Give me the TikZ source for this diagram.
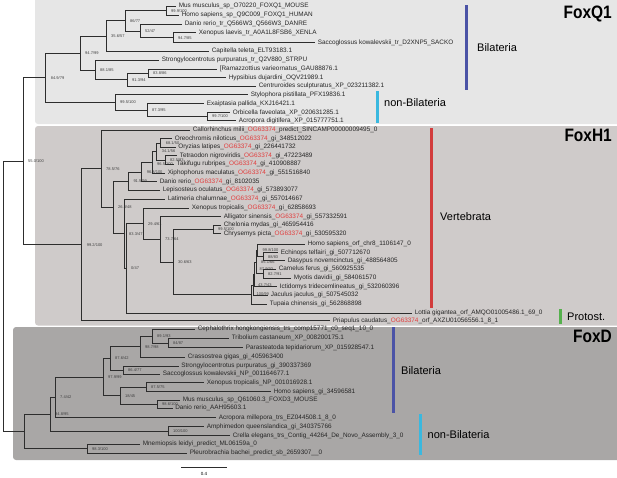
\documentclass[tikz,border=0pt]{standalone}
\usepackage{fontspec}
\setmainfont{Liberation Sans}
\definecolor{boxA}{RGB}{230,230,230}
\definecolor{boxB}{RGB}{207,203,202}
\definecolor{boxC}{RGB}{169,167,166}
\definecolor{ogred}{RGB}{226,62,62}
\definecolor{barblue}{RGB}{75,83,166}
\definecolor{barcyan}{RGB}{58,184,223}
\definecolor{barred}{RGB}{210,60,60}
\definecolor{bargreen}{RGB}{85,176,77}
\definecolor{treeline}{RGB}{45,45,45}
\newcommand\og{\textcolor{ogred}{OG63374}}
\newcommand\inode[4]{\coordinate (#1) at (#2,#3); \node[bs] (#1-bs) at (#1) {#4};}
\newcommand\inodeat[5]{\coordinate (#1) at (#2,#3); \node[bs] (#1-bs) at (#2,#4) {#5};}
\newcommand\lnode[4]{\node[leaf] (#1) at (#2,#3) {#4};}
\newcommand\conn[2]{\draw[branch] (#1) |- (#2);}
\newcommand\lconn[2]{\draw[branch] (#1) |- (#2.west);}
\tikzset{
 leaf/.style={anchor=west, inner xsep=2.6pt, inner ysep=0pt, font=\fontsize{6.4}{7}\selectfont, text=black!85},
 bs/.style={anchor=west, inner sep=0pt, xshift=5pt, font=\fontsize{4}{4.5}\selectfont, text=black!75},
 branch/.style={draw=treeline, line width=0.7pt},
 grp/.style={anchor=west, inner sep=0pt, font=\fontsize{11}{13}\selectfont},
 gbar/.style={line width=3pt},
 ttl/.style={anchor=east, inner sep=0pt, font=\bfseries\fontsize{18}{20}\selectfont},
}
\begin{document}
\begin{tikzpicture}[x=1pt,y=-1pt]
\useasboundingbox (0,0) rectangle (617,477);
% clade boxes
\fill[boxA, rounded corners=3pt] (35,-4) rectangle (621,124);
\fill[boxB, rounded corners=3pt] (35,126) rectangle (621,325.5);
\fill[boxC, rounded corners=3pt] (13,327) rectangle (621,460);
% titles
\node[ttl] (tQ) at (612,14) {\scalebox{0.86}[1]{FoxQ1}};
\node[ttl] (tH) at (612,135) {\scalebox{0.86}[1]{FoxH1}};
\node[ttl] (tD) at (612,336.5) {\scalebox{0.86}[1]{FoxD}};
% group bars
\coordinate (b1a) at (466.7,5); \coordinate (b1b) at (466.7,90);
\draw[gbar,barblue] (b1a) -- (b1b);
\node[grp] (g1) at (477,47.7) {Bilateria};
\coordinate (b2a) at (377,91); \coordinate (b2b) at (377,123);
\draw[gbar,barcyan] (b2a) -- (b2b);
\node[grp] (g2) at (384,103) {non-Bilateria};
\coordinate (b3a) at (431.7,128); \coordinate (b3b) at (431.7,308);
\draw[gbar,barred] (b3a) -- (b3b);
\node[grp] (g3) at (440,216.7) {Vertebrata};
\coordinate (b4a) at (560.7,309); \coordinate (b4b) at (560.7,324);
\draw[gbar,bargreen] (b4a) -- (b4b);
\node[grp] (g4) at (567,317) {Protost.};
\coordinate (b5a) at (393,327); \coordinate (b5b) at (393,413);
\draw[gbar,barblue] (b5a) -- (b5b);
\node[grp] (g5) at (401,371) {Bilateria};
\coordinate (b6a) at (420.7,414); \coordinate (b6b) at (420.7,455);
\draw[gbar,barcyan] (b6a) -- (b6b);
\node[grp] (g6) at (427.5,435) {non-Bilateria};
% ---------------- FoxQ1 leaves
\lnode{q1}{176}{6}{Mus musculus\_sp\_O70220\_FOXQ1\_MOUSE}
\lnode{q2}{179}{15.3}{Homo sapiens\_sp\_Q9C009\_FOXQ1\_HUMAN}
\lnode{q3}{182}{24}{Danio rerio\_tr\_Q566W3\_Q566W3\_DANRE}
\lnode{q4}{196}{32.7}{Xenopus laevis\_tr\_A0A1L8FSB6\_XENLA}
\lnode{q5}{315}{42.7}{Saccoglossus kowalevskii\_tr\_D2XNP5\_SACKO}
\lnode{q6}{209}{51}{Capitella teleta\_ELT93183.1}
\lnode{q7}{159}{60}{Strongylocentrotus purpuratus\_tr\_Q2V880\_STRPU}
\lnode{q8}{217}{69}{[Ramazzottius varieornatus\_GAU88876.1}
\lnode{q9}{226}{77.7}{Hypsibius dujardini\_OQV21989.1}
\lnode{q10}{256}{86.3}{Centruroides sculpturatus\_XP\_023211382.1}
\lnode{q11}{248}{94.7}{Stylophora pistillata\_PFX19836.1}
\lnode{q12}{204}{103.7}{Exaiptasia pallida\_KXJ16421.1}
\lnode{q13}{230}{112.5}{Orbicella faveolata\_XP\_020631285.1}
\lnode{q14}{236}{120.5}{Acropora digitifera\_XP\_015777751.1}
% FoxQ1 internal
\inode{mh}{166}{10.65}{99.9/100}
\inode{n947}{173}{37.7}{94.7/85}
\inode{n5247}{140}{30.85}{52/47}
\inode{n8677}{125}{20.75}{86/77}
\inode{n356}{106}{35.9}{35.6/57}
\inode{n838}{148}{73.35}{83.8/86}
\inode{n913}{127}{79.8}{91.3/94}
\inode{n881}{95}{69.9}{88.1/85}
\inode{n947b}{80}{52.9}{94.7/99}
\inode{n997}{207}{116.5}{99.7/100}
\inode{n873}{147}{110.1}{87.3/95}
\inode{n995}{115}{102.4}{99.5/100}
\inode{n849}{45.7}{77.65}{84.9/79}
\lconn{mh}{q1}\lconn{mh}{q2}
\lconn{n947}{q4}\lconn{n947}{q5}
\lconn{n5247}{q3}\conn{n5247}{n947}
\conn{n8677}{mh}\conn{n8677}{n5247}
\conn{n356}{n8677}\lconn{n356}{q6}
\lconn{n838}{q8}\lconn{n838}{q9}
\conn{n913}{n838}\lconn{n913}{q10}
\lconn{n881}{q7}\conn{n881}{n913}
\conn{n947b}{n356}\conn{n947b}{n881}
\lconn{n997}{q13}\lconn{n997}{q14}
\lconn{n873}{q12}\conn{n873}{n997}
\lconn{n995}{q11}\conn{n995}{n873}
\conn{n849}{n947b}\conn{n849}{n995}
% ---------------- FoxH1 leaves
\lnode{h1}{190}{130}{Callorhinchus milii\_\og\_predict\_SINCAMP00000009495\_0}
\lnode{h2}{172}{138.7}{Oreochromis niloticus\_\og\_gi\_348512022}
\lnode{h3}{175.5}{147}{Oryzias latipes\_\og\_gi\_226441732}
\lnode{h4}{177}{155.7}{Tetraodon nigroviridis\_\og\_gi\_47223489}
\lnode{h5}{174}{164.3}{Takifugu rubripes\_\og\_gi\_410908887}
\lnode{h6}{165}{173}{Xiphophorus maculatus\_\og\_gi\_551516840}
\lnode{h7}{157}{181.7}{Danio rerio\_\og\_gi\_8102035}
\lnode{h8}{160}{190.3}{Lepisosteus oculatus\_\og\_gi\_573893077}
\lnode{h9}{165}{199}{Latimeria chalumnae\_\og\_gi\_557014667}
\lnode{h10}{189}{208}{Xenopus tropicalis\_\og\_gi\_62858693}
\lnode{h11}{221}{216.7}{Alligator sinensis\_\og\_gi\_557332591}
\lnode{h12}{221}{225.3}{Chelonia mydas\_gi\_465954416}
\lnode{h13}{221}{233.7}{Chrysemys picta\_\og\_gi\_530595320}
\lnode{h14}{305}{244.3}{Homo sapiens\_orf\_chr8\_1106147\_0}
\lnode{h15}{278}{252.7}{Echinops telfairi\_gi\_507712670}
\lnode{h16}{285}{260.7}{Dasypus novemcinctus\_gi\_488564805}
\lnode{h17}{276}{269}{Camelus ferus\_gi\_560925535}
\lnode{h18}{291}{278.3}{Myotis davidii\_gi\_584061570}
\lnode{h19}{277}{286.7}{Ictidomys tridecemlineatus\_gi\_532060396}
\lnode{h20}{268}{295.3}{Jaculus jaculus\_gi\_507545032}
\lnode{h21}{267}{304}{Tupaia chinensis\_gi\_562868898}
\lnode{h22}{412}{313.3}{Lottia gigantea\_orf\_AMQO01005486.1\_69\_0}
\lnode{h23}{330}{320.7}{Priapulus caudatus\_\og\_orf\_AXZU01056556.1\_8\_1}
% FoxH1 internal
\inode{n681}{160.7}{142.85}{68.1/50}
\inode{n825}{165}{160}{82.5/93}
\inode{n341}{156.7}{151.4}{34.1/56}
\inodeat{n96a}{152}{162.2}{163.8}{96.5/100}
\inode{n968}{141.7}{171.95}{96.8/100}
\inode{n915}{128.3}{181.1}{91.5/99}
\inode{nt}{213}{229.5}{99.5/100}
\inode{mA}{263}{256.7}{88/83}
\inode{mB}{257.5}{250.5}{99.8/100}
\inodeat{mC}{263}{273.65}{274.2}{82.7/91}
\inodeat{mE}{254.5}{274.4}{268.8}{87.9/93}
\inode{mD}{256}{262.1}{85.1/66}
\inode{mF}{253}{284.85}{43.7/43}
\inode{mG}{251.5}{294.4}{100/99}
\inode{n306}{173}{261.95}{30.6/63}
\inode{n737}{160}{239.3}{73.7/64}
\inode{n294}{143}{223.65}{29.4/61}
\inode{n047}{126}{268.5}{0/47}
\inode{n833}{124}{233.75}{83.3/47}
\inode{n263}{113}{207.4}{26.3/48}
\inode{n785}{101}{168.7}{78.5/76}
\inode{n992}{81.7}{244.7}{99.2/100}
\lconn{n681}{h2}\lconn{n681}{h3}
\lconn{n825}{h4}\lconn{n825}{h5}
\conn{n341}{n681}\conn{n341}{n825}
\conn{n96a}{n341}\lconn{n96a}{h6}
\conn{n968}{n96a}\lconn{n968}{h7}
\conn{n915}{n968}\lconn{n915}{h8}
\lconn{nt}{h12}\lconn{nt}{h13}
\lconn{mA}{h15}\lconn{mA}{h16}
\lconn{mB}{h14}\conn{mB}{mA}
\lconn{mC}{h17}\lconn{mC}{h18}
\conn{mD}{mB}\conn{mD}{mC}
\conn{mE}{mD}\lconn{mE}{h19}
\conn{mF}{mE}\lconn{mF}{h20}
\conn{mG}{mF}\lconn{mG}{h21}
\conn{n306}{nt}\conn{n306}{mG}
\lconn{n737}{h11}\conn{n737}{n306}
\lconn{n294}{h10}\conn{n294}{n737}
\conn{n047}{n294}\lconn{n047}{h22}
\lconn{n833}{h9}\conn{n833}{n047}
\conn{n263}{n915}\conn{n263}{n833}
\lconn{n785}{h1}\conn{n785}{n263}
\conn{n992}{n785}\lconn{n992}{h23}
% ---------------- FoxD leaves
\lnode{d1}{195}{329.3}{Cephalothrix hongkongiensis\_trs\_comp15771\_c0\_seq1\_10\_0}
\lnode{d2}{229}{338.3}{Tribolium castaneum\_XP\_008200175.1}
\lnode{d3}{243}{347.5}{Parasteatoda tepidariorum\_XP\_015928547.1}
\lnode{d4}{185}{357.3}{Crassostrea gigas\_gi\_405963400}
\lnode{d5}{178.5}{366}{Strongylocentrotus purpuratus\_gi\_390337369}
\lnode{d6}{160}{374.3}{Saccoglossus kowalevskii\_NP\_001164677.1}
\lnode{d7}{204}{382.7}{Xenopus tropicalis\_NP\_001016928.1}
\lnode{d8}{271}{391.7}{Homo sapiens\_gi\_34596581}
\lnode{d9}{180}{400}{Mus musculus\_sp\_Q61060.3\_FOXD3\_MOUSE}
\lnode{d10}{172.5}{408.3}{Danio rerio\_AAH95603.1}
\lnode{d11}{216}{417.7}{Acropora millepora\_trs\_EZ044508.1\_8\_0}
\lnode{d12}{204}{426.7}{Amphimedon queenslandica\_gi\_340375766}
\lnode{d13}{230}{435.7}{Crella elegans\_trs\_Contig\_44264\_De\_Novo\_Assembly\_3\_0}
\lnode{d14}{140}{444.3}{Mnemiopsis leidyi\_predict\_ML06159a\_0}
\lnode{d15}{187}{453.3}{Pleurobrachia bachei\_predict\_sb\_2659307\_\_0}
% FoxD internal
\inode{n84}{168}{342.9}{84/87}
\inode{n891}{152}{336.1}{89.1/93}
\inode{n987}{140}{346.7}{98.7/98}
\inode{n864}{123}{370.15}{86.4/77}
\inode{n876}{110}{358.4}{87.6/42}
\inode{n875}{146}{387.2}{87.5/75}
\inode{n986}{157}{404.15}{98.6/100}
\inode{n18}{120}{395.7}{18/45}
\inode{n979}{103}{377}{97.9/99}
\inode{n74}{55}{397.35}{7.4/42}
\inode{n100b}{168}{431.2}{100/100}
\inode{n948}{50}{414.3}{94.8/95}
\inode{n983}{87}{448.8}{98.3/100}
\coordinate (nD) at (24,431.5);
\lconn{n84}{d2}\lconn{n84}{d3}
\lconn{n891}{d1}\conn{n891}{n84}
\conn{n987}{n891}\lconn{n987}{d4}
\lconn{n864}{d5}\lconn{n864}{d6}
\conn{n876}{n987}\conn{n876}{n864}
\lconn{n875}{d7}\lconn{n875}{d8}
\lconn{n986}{d9}\lconn{n986}{d10}
\conn{n18}{n875}\conn{n18}{n986}
\conn{n979}{n876}\conn{n979}{n18}
\conn{n74}{n979}\lconn{n74}{d11}
\lconn{n100b}{d12}\lconn{n100b}{d13}
\conn{n948}{n74}\conn{n948}{n100b}
\lconn{n983}{d14}\lconn{n983}{d15}
\conn{nD}{n948}\conn{nD}{n983}
% ---------------- deep nodes
\inode{nQH}{23}{161.2}{55.0/100}
\coordinate (root) at (3,296.3);
\conn{nQH}{n849}\conn{nQH}{n992}
\conn{root}{nQH}\conn{root}{nD}
% scale bar
\coordinate (sb1) at (181,467.3); \coordinate (sb2) at (227,467.3);
\draw[branch] (sb1) -- (sb2);
\node[font=\fontsize{4.5}{5}\selectfont, inner sep=0pt] (sbl) at (204,473.5) {0.4};
\end{tikzpicture}
\end{document}
